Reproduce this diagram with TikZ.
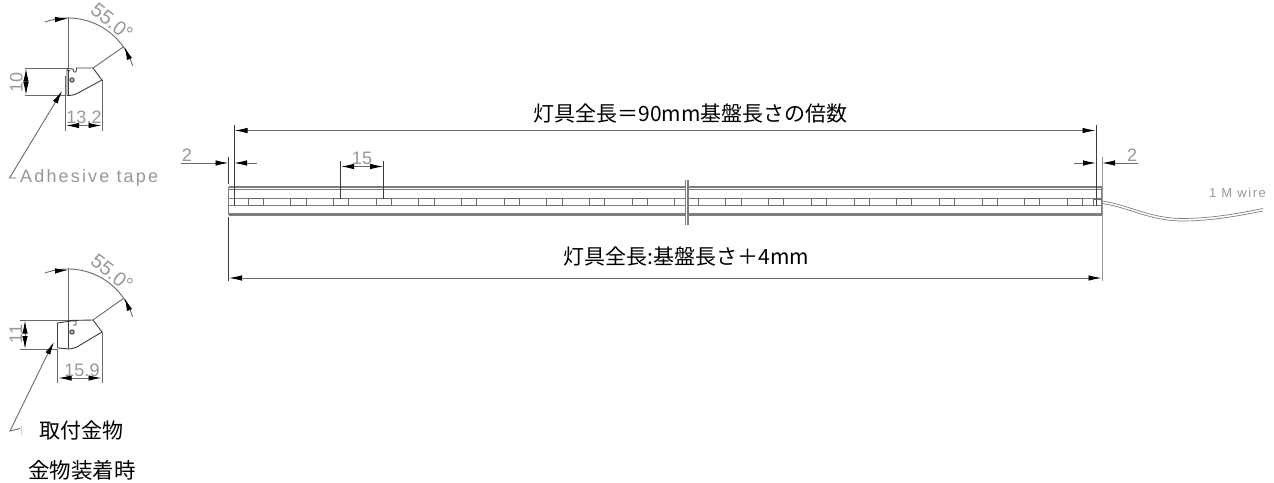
\documentclass[tikz,border=0pt]{standalone}
\usepackage{fontspec}
\setmainfont{Liberation Sans}
\newfontfamily\cadfont{Liberation Sans}
\newfontfamily\cadwide[LetterSpace=12]{Liberation Sans}
\newfontfamily\jpfont{Noto Sans CJK JP}
\usetikzlibrary{arrows.meta}
\definecolor{cadgray}{HTML}{989898}
\definecolor{cadline}{HTML}{6A6A6A}
\definecolor{cadbody}{HTML}{7E7E7E}
\definecolor{caddark}{HTML}{3C3C3C}
\tikzset{
  dimline/.style={draw=cadline,line width=0.9pt},
  darkline/.style={draw=caddark,line width=0.9pt},
  bodyline/.style={draw=cadbody,line width=1.1pt},
  profile/.style={draw=caddark,line width=0.9pt},
  tipend/.style={-{Latex[length=13pt,width=5.5pt,color=black]}},
  tipboth/.style={{Latex[length=13pt,width=5.5pt,color=black]}-{Latex[length=13pt,width=5.5pt,color=black]}},
  cadtext/.style={text=cadgray,font=\cadfont\fontsize{#1}{#1}\selectfont,inner sep=0pt},
  cadlong/.style={text=cadgray,font=\cadwide\fontsize{#1}{#1}\selectfont,inner sep=0pt},
  jptext/.style={text=black,font=\jpfont\fontsize{#1}{#1}\selectfont,inner sep=0pt}
}
\begin{document}
\begin{tikzpicture}[x=1pt,y=-1pt]
\useasboundingbox (0,0) rectangle (1274,482);
\fill[white] (0,0) rectangle (1274,482);

% ---------- top section ----------
\draw[dimline] (68,17) -- (68,68);
\draw[dimline] plot[domain=-20:73,samples=50] ({68+67.5*sin(\x)},{85.5-67.5*cos(\x)});
\draw[dimline,tipend] (55,19.5) -- (68,18.5);
\draw[dimline] (93,68) -- (124,46.5);
\draw[dimline,tipend] (129.5,59) -- (124.5,47);
\node[cadtext=20,rotate=-38] (angA) at (112,22) {55.0°};
% profile
\draw[profile] (67,70) -- (67,68.5) -- (73,69) -- (74,72) -- (76,72) -- (76.5,68) -- (93,68) -- (102,80) -- (78,93) .. controls (74,95) and (72,95.5) .. (67,95.5) -- (67,70) -- (70,71);
\draw[profile] (65,76) -- (65,92.5);
\draw[profile] (68,70) -- (68,96);
\draw[profile,fill=gray!60] (72,80) circle (2.2);
% dim 10
\draw[dimline] (25,68) -- (67,68);
\draw[dimline] (25,95.5) -- (66,95.5);
\draw[dimline,tipboth] (26,68.5) -- (26,95);
\node[cadtext=18,rotate=90] (dimA) at (16.5,82) {10};
% dim 13.2
\draw[dimline] (65,77) -- (65,131);
\draw[dimline] (102,80) -- (102,131);
\draw[dimline,tipboth] (66,125.5) -- (101.5,125.5);
\node[cadtext=18] (dimB) at (84,117) {13.2};
% leader
\draw[dimline] (16,178) -- (9.5,178) -- (61,93);
\draw[dimline,tipend] (56,101) -- (62,91);
\node[cadlong=18,anchor=west] (tape) at (20,177.5) {Adhesive tape};

% ---------- lower section ----------
\draw[dimline] (68,268) -- (68,320);
\draw[dimline] plot[domain=-20:73,samples=50] ({68+67.5*sin(\x)},{336.5-67.5*cos(\x)});
\draw[dimline,tipend] (55,271) -- (68,270);
\draw[dimline] (93,320) -- (124,298);
\draw[dimline,tipend] (129.5,310) -- (124.5,298);
\node[cadtext=20,rotate=-38] (angB) at (112,273) {55.0°};
% profile
\draw[profile] (68,320.5) -- (93,320) -- (102,332) -- (76,347.5) -- (70,349) -- (58,348);
\draw[profile] (57.5,348) -- (57.5,323) -- (71,321) -- (76,321) -- (76,325) -- (73,325);
\draw[profile] (68,322) -- (68,349);
\draw[profile,fill=gray!60] (72,332) circle (2.2);
% dim 11
\draw[dimline] (20,320) -- (68,320);
\draw[dimline] (20,349.5) -- (58,349.5);
\draw[dimline,tipboth] (25,320.5) -- (25,349);
\node[cadtext=18,rotate=90] (dimC) at (16,334) {11};
% dim 15.9
\draw[dimline] (57.5,349) -- (57.5,383);
\draw[dimline] (102,332) -- (102,383);
\draw[dimline,tipboth] (58.5,378) -- (101.5,378);
\node[cadtext=18] (dimD) at (82,370) {15.9};
% leader
\draw[dimline] (20,428.5) -- (10,431) -- (52,345);
\draw[dimline,tipend] (47.5,354) -- (54,342);
\draw[draw=gray!40,line width=0.6pt] (21.5,426) -- (21.5,435);
\node[jptext=21] (mountA) at (81,431) {取付金物};
\node[jptext=21.5] (mountB) at (82,470) {金物装着時};

% ---------- main bar ----------
\foreach \yy in {187,189.5,198.5,205.5,213.5,215}{
  \draw[bodyline] (228.5,\yy) -- (684.5,\yy);
  \draw[bodyline] (689,\yy) -- (1102,\yy);
}
\draw[bodyline] (228.5,187) -- (228.5,215);
\draw[bodyline] (1102,187) -- (1102,215);
\draw[dimline] (234,198.5) -- (234,205.5);
\foreach \i in {0,...,9}{
  \draw[dimline,fill=white] ({248+42.67*\i},198.8) rectangle ({263.3+42.67*\i},205.5);
}
\draw[dimline] (674.7,205.5) -- (674.7,198.8);
\draw[dimline] (689,198.8) -- (698.5,198.8) -- (698.5,205.5);
\foreach \i in {0,...,8}{
  \draw[dimline,fill=white] ({1067.3-42.67*\i},198.8) rectangle ({1082.6-42.67*\i},205.5);
}
% break
\draw[bodyline] (685.5,180) -- (685.5,225);
\draw[bodyline] (688,180) -- (688,225);
% extension lines
\draw[darkline] (234,125) -- (234,205.5);
\draw[darkline] (1096,125) -- (1096,205.5);
\draw[darkline] (228.5,157) -- (228.5,184);
\draw[darkline] (228.5,217) -- (228.5,281);
\draw[dimline,draw=cadgray] (1102,157) -- (1102,281);
% upper overall dim
\draw[dimline,tipboth] (234.5,130.5) -- (1095.5,130.5);
\node[jptext=21] (lenA) at (690.5,114) {灯具全長＝90mm基盤長さの倍数};
% lower overall dim
\draw[dimline,tipboth] (229,278) -- (1101.5,278);
\node[jptext=21] (lenB) at (686.5,257) {灯具全長:基盤長さ＋4mm};
% dim 2 left
\draw[dimline] (181,163) -- (216,163);
\draw[dimline,tipend] (216,163) -- (228.5,163);
\draw[dimline] (257,163) -- (246,163);
\draw[dimline,tipend] (247,163) -- (234,163);
\node[cadtext=18] (twoA) at (187,155) {2};
% dim 2 right
\draw[dimline] (1073.5,163) -- (1084,163);
\draw[dimline,tipend] (1083,163) -- (1096,163);
\draw[dimline] (1138,163) -- (1114,163);
\draw[dimline,tipend] (1115,163) -- (1102,163);
\node[cadtext=18] (twoB) at (1132,155) {2};
% dim 15
\draw[darkline] (340.7,161) -- (340.7,198.8);
\draw[darkline] (383.5,161) -- (383.5,198.8);
\draw[dimline,tipboth] (341,166.5) -- (383.2,166.5);
\node[cadtext=18] (fifteen) at (362,158) {15};
% wire
\draw[dimline] (1093,199.5) -- (1102,199.5);
\draw[dimline] (1093,205) -- (1093,199.5);
\draw[bodyline,line width=0.7pt] (1102,201) .. controls (1130,205) and (1150,219) .. (1185,218.5) .. controls (1215,218) and (1240,213) .. (1263,208.5);
\draw[bodyline,line width=0.7pt] (1102,203.5) .. controls (1130,207.5) and (1150,221.5) .. (1185,221) .. controls (1215,220.5) and (1240,215.5) .. (1263,211);
\node[cadlong=13] (wire) at (1237.5,192.5) {1 M wire};
\end{tikzpicture}
\end{document}
